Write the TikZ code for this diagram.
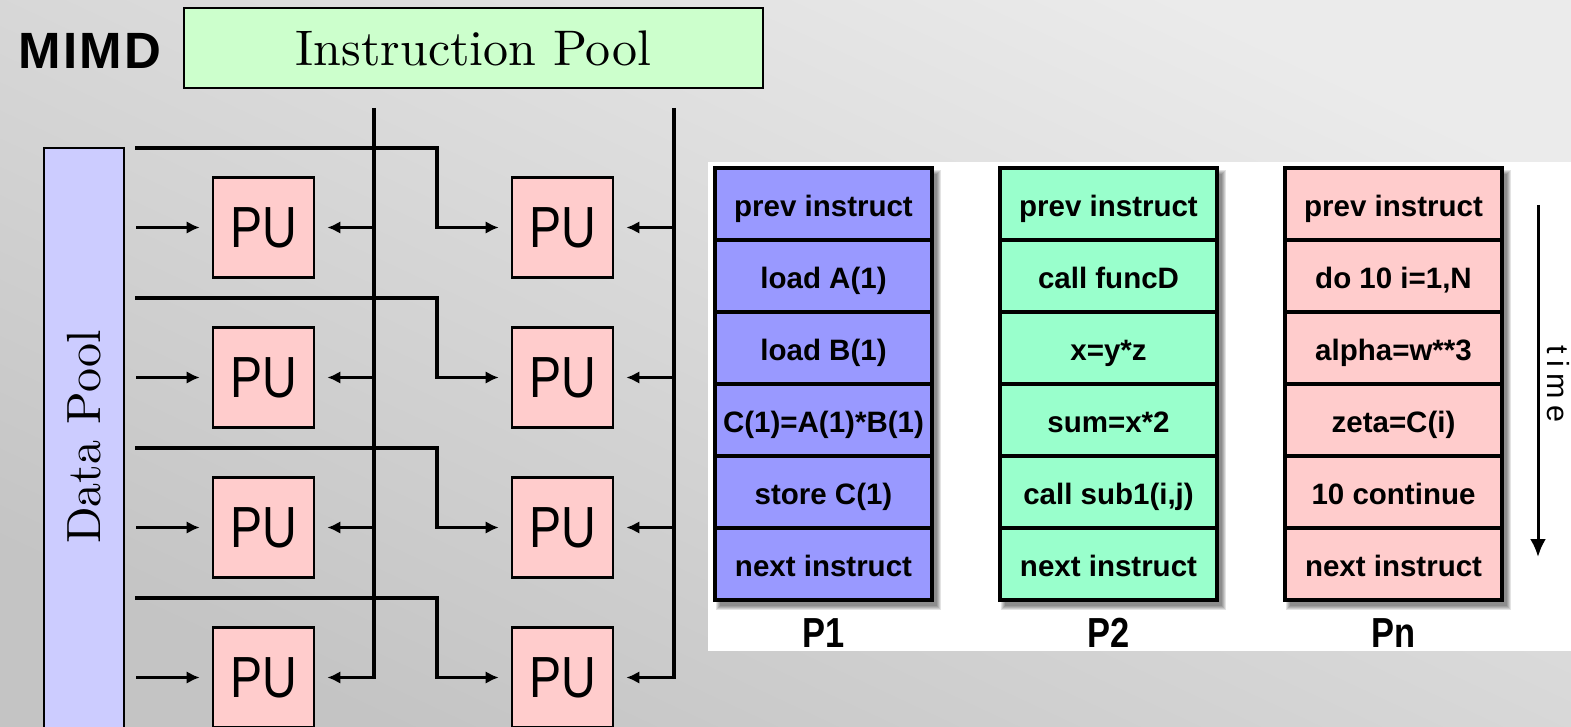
\documentclass[tikz,border=0pt]{standalone}
\usepackage{fontspec}
\usetikzlibrary{arrows.meta}

\newfontfamily\sansfam{Liberation Sans}
\newfontfamily\mimdfam[LetterSpace=5]{Liberation Sans}
\newfontfamily\pufam[FakeStretch=0.83]{Liberation Sans}
\newfontfamily\labfam[FakeStretch=0.82]{Liberation Sans}
\newfontfamily\timefam[LetterSpace=22]{Liberation Sans}
\newfontfamily\cmfam{lmroman10-regular}[Extension=.otf]

\definecolor{poolgreen}{HTML}{CCFFCC}
\definecolor{poolblue}{HTML}{CCCCFF}
\definecolor{pupink}{HTML}{FFCCCC}
\definecolor{pviolet}{HTML}{9999FF}
\definecolor{pmint}{HTML}{99FFCC}
\definecolor{bgtop}{HTML}{EBEBEB}
\definecolor{bgbot}{HTML}{C4C4C4}

\tikzset{
  pool/.style={draw, line width=2.2pt, inner sep=0pt},
  pubox/.style={draw, line width=2.6pt, fill=pupink, minimum width=101pt,
    minimum height=100pt, inner sep=0pt,
    font=\pufam\fontsize{58}{60}\selectfont},
  wire/.style={line width=3.2pt},
  feed/.style={wire, -{Latex[length=13pt,width=12.5pt]}, shorten >=12pt},
  cellbox/.style={draw, line width=3.2pt, minimum width=217pt, minimum height=72pt,
    inner sep=0pt, text height=25pt, text depth=0pt,
    font=\sansfam\bfseries\fontsize{29.5}{30}\selectfont},
  plabel/.style={font=\labfam\bfseries\fontsize{42}{44}\selectfont,
    anchor=base, inner sep=0pt},
}

% one processor column: name, centre x, fill, six instructions
\newcommand\proccolumn[9]{%
  \foreach \s in {0,1,2,3,4}
    \fill[black, opacity=0.11] (#2-103.5-\s,174-\s) rectangle (#2+113.5+\s,606+\s);
  \node[cellbox, fill=#3] (#1a) at (#2,204) {#4};
  \node[cellbox, fill=#3] (#1b) at (#2,276) {#5};
  \node[cellbox, fill=#3] (#1c) at (#2,348) {#6};
  \node[cellbox, fill=#3] (#1d) at (#2,420) {#7};
  \node[cellbox, fill=#3] (#1e) at (#2,492) {#8};
  \node[cellbox, fill=#3] (#1f) at (#2,564) {#9};
}

\begin{document}
\begin{tikzpicture}[x=1pt, y=-1pt]
\useasboundingbox (0,0) rectangle (1571,727);
\shade[top color=bgtop, bottom color=bgbot, shading angle=-25] (0,0) rectangle (1571,727);

% ---------- MIMD block diagram ----------
\node[font=\mimdfam\bfseries\fontsize{51}{55}\selectfont, anchor=base west, inner sep=0pt]
  (mimd) at (18,69) {MIMD};
\node[pool, fill=poolgreen, minimum width=579pt, minimum height=80pt,
  font=\cmfam\fontsize{50}{60}\selectfont] (ip) at (473.5,48) {Instruction Pool};
\node[pool, fill=poolblue, minimum width=80pt, minimum height=600pt] (dp) at (84,448) {};
\node[rotate=90, inner sep=0pt, font=\cmfam\fontsize{48}{55}\selectfont] (dplab) at (84,437) {Data Pool};

\foreach \r/\y in {1/227.5,2/377.5,3/527.5,4/677.5} {
  \node[pubox] (pu\r1) at (263.5,\y) {PU};
  \node[pubox] (pu\r2) at (562.5,\y) {PU};
}

% instruction streams
\coordinate (iL) at (374,108);
\coordinate (iR) at (674,108);
\draw[feed] (iL) |- (pu41.east);
\draw[feed] (iR) |- (pu42.east);
\foreach \r in {1,2,3} {
  \draw[feed] (iL |- pu\r1.east) -- (pu\r1.east);
  \draw[feed] (iR |- pu\r2.east) -- (pu\r2.east);
}

% data streams
\coordinate (dL) at ([xshift=11pt]dp.east);
\coordinate (bend) at (437,0);
\foreach \r/\y in {1/148,2/298,3/448,4/598} {
  \coordinate (br\r) at (135,\y);
  \draw[feed] (dL |- pu\r1.west) -- (pu\r1.west);
  \draw[feed] (br\r) -| (bend |- pu\r2.west) -- (pu\r2.west);
}

% ---------- instruction streams per processor ----------
\fill[white] (708,162) rectangle (1571,651);

\proccolumn{pa}{823.5}{pviolet}{prev instruct}{load A(1)}{load B(1)}{C(1)=A(1)*B(1)}{store C(1)}{next instruct}
\proccolumn{pb}{1108.5}{pmint}{prev instruct}{call funcD}{x=y*z}{sum=x*2}{call sub1(i,j)}{next instruct}
\proccolumn{pn}{1393.5}{pupink}{prev instruct}{do 10 i=1,N}{alpha=w**3}{zeta=C(i)}{10 continue}{next instruct}

\node[plabel] (la) at (823.5,647) {P1};
\node[plabel] (lb) at (1108.5,647) {P2};
\node[plabel] (ln) at (1393.5,647) {Pn};

% time axis
\coordinate (tTop) at (1538,205);
\coordinate (tBot) at (1538,557);
\draw[line width=3pt, -{Latex[length=18pt,width=16pt]}] (tTop) -- (tBot);
\node[rotate=-90, anchor=base, inner sep=0pt, font=\timefam\fontsize{30.5}{34}\selectfont]
  (time) at (1547,384) {time};
\end{tikzpicture}
\end{document}
